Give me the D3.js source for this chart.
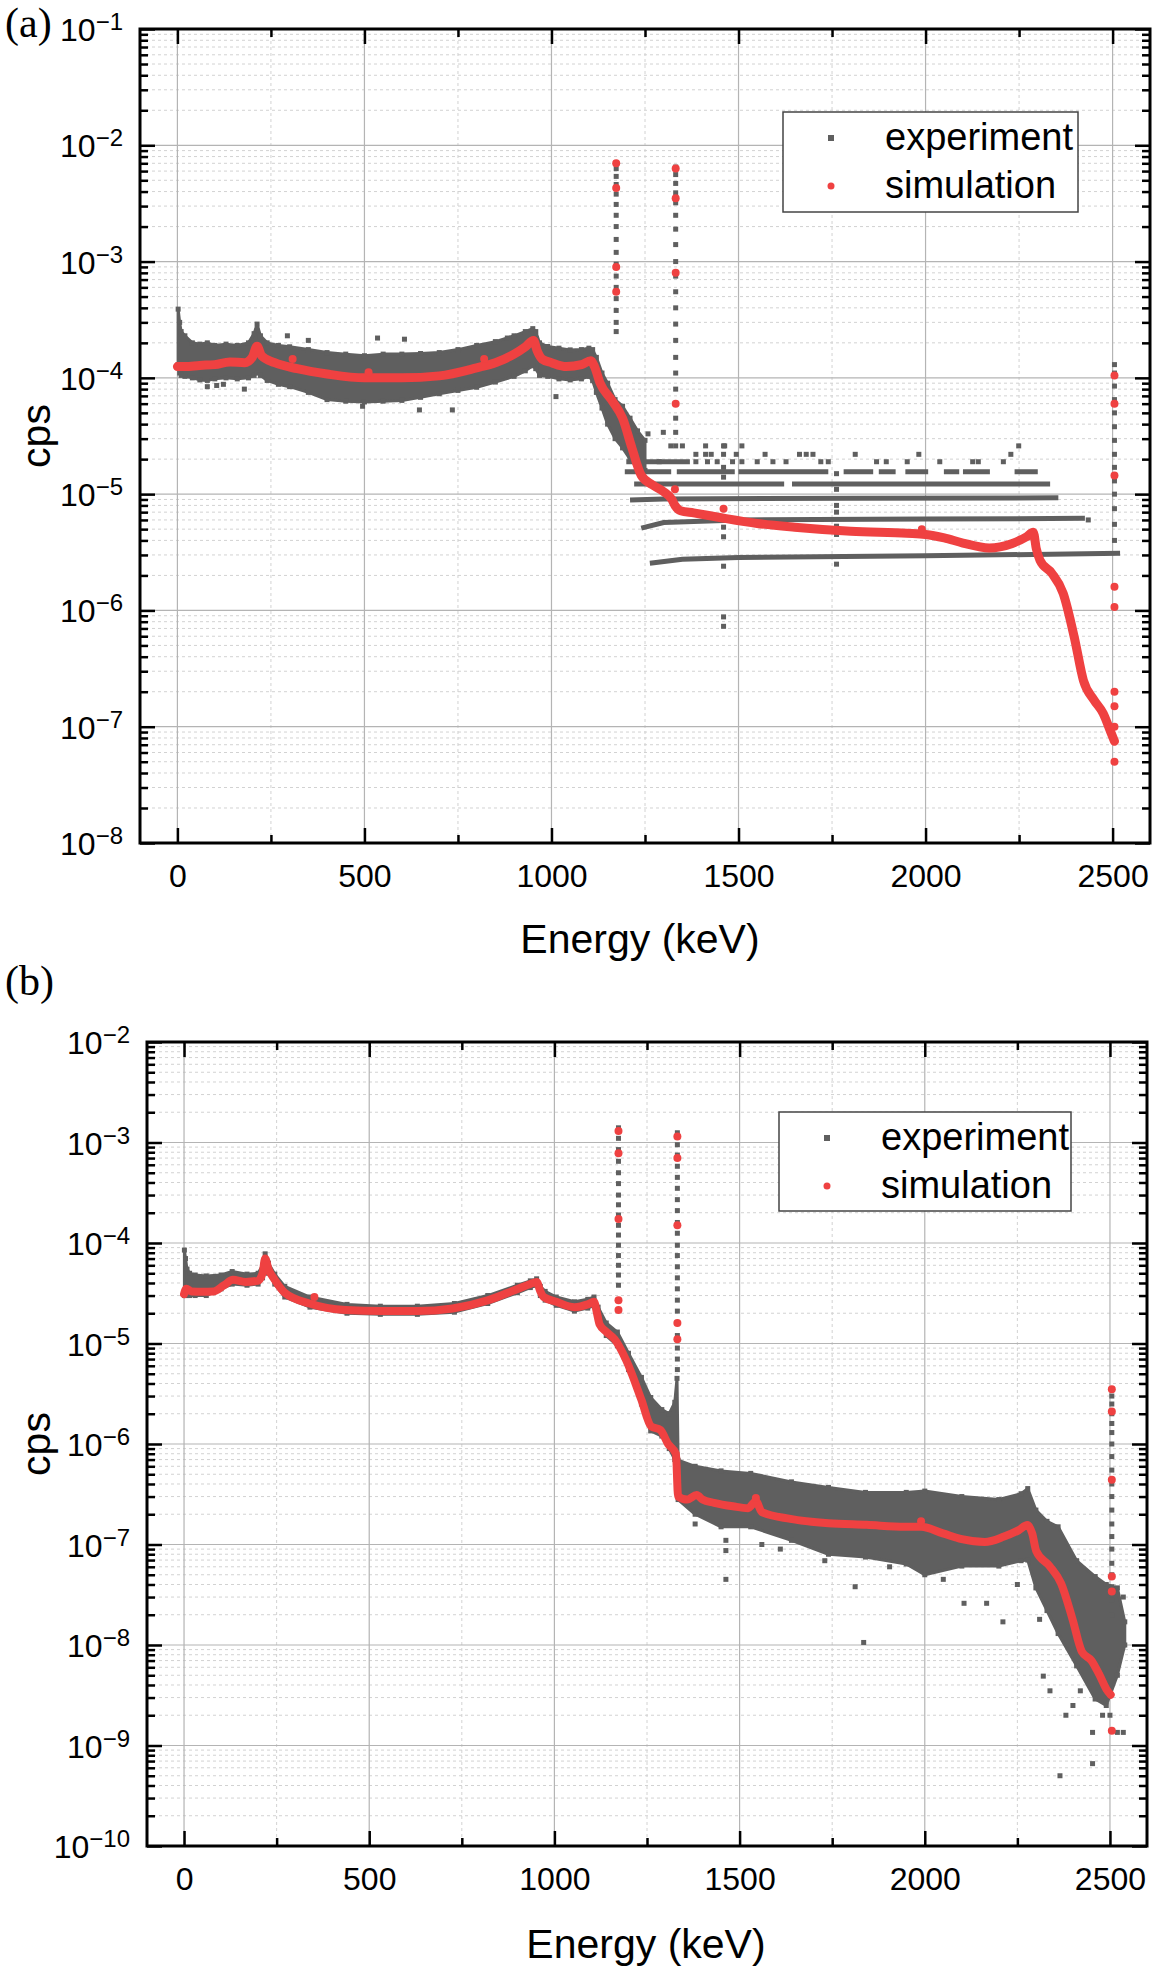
<!DOCTYPE html>
<html><head><meta charset="utf-8">
<script src="https://cdn.jsdelivr.net/npm/d3@7"></script>
<style>body{margin:0;background:#fff}</style>
</head><body>
<svg id="chart" width="1160" height="1974" xmlns="http://www.w3.org/2000/svg"></svg>
<script>
// ---------------- shared axis data ----------------
const energyTicks = [0, 500, 1000, 1500, 2000, 2500];
const energyMinor = [250, 750, 1250, 1750, 2250];
const energyDomain = [-100, 2600];
const decadeExpA = [-8, -7, -6, -5, -4, -3, -2, -1];
const decadeExpB = [-10, -9, -8, -7, -6, -5, -4, -3, -2];
const legendLabels = ["experiment", "simulation"];
const axisTitleX = "Energy (keV)";
const axisTitleY = "cps";

// ---------------- panel (a) ----------------
const simA_E = [0,20,60,100,140,180,200,213,225,260,320,400,500,600,700,800,850,900,930,952,962,975,1000,1040,1080,1105,1115,1130,1160,1190,1215,1240,1270,1300,1322,1330,1345,1380,1450,1550,1650,1800,1950,2000,2050,2100,2170,2230,2270,2288,2296,2306,2337,2368,2398,2422,2450,2475,2495,2505];
const simA_cps = [1.25e-4,1.25e-4,1.28e-4,1.3e-4,1.37e-4,1.35e-4,1.5e-4,1.87e-4,1.55e-4,1.35e-4,1.2e-4,1.08e-4,1.0e-4,1.0e-4,1.04e-4,1.22e-4,1.35e-4,1.6e-4,1.85e-4,2.1e-4,1.7e-4,1.45e-4,1.35e-4,1.25e-4,1.3e-4,1.4e-4,1.25e-4,9e-5,6.5e-5,4.5e-5,2.5e-5,1.45e-5,1.2e-5,1.05e-5,9e-6,8e-6,7.2e-6,6.9e-6,6.3e-6,5.6e-6,5.2e-6,4.8e-6,4.6e-6,4.5e-6,4.2e-6,3.8e-6,3.45e-6,3.75e-6,4.3e-6,4.7e-6,3.4e-6,2.7e-6,2.1e-6,1.4e-6,5.8e-7,2.5e-7,1.7e-7,1.3e-7,9e-8,7.5e-8];
const simA_dotE = [1173,1173,1173,1173,1332,1332,1332,1332,2505,2505,2505,2505,2505,2505,2505,2505,2505,308,511,820,1330,1460,1990];
const simA_dotCps = [7e-3,4.3e-3,9e-4,5.5e-4,6.3e-3,3.5e-3,8e-4,6e-5,1.05e-4,6e-5,1.45e-5,1.6e-6,1.07e-6,2e-7,1.5e-7,1e-7,5e-8,1.45e-4,1.12e-4,1.45e-4,1.1e-5,7.5e-6,5e-6];

const expA_E = [2,6,10,20,40,60,80,100,130,160,190,205,213,222,240,270,300,350,400,450,500,550,600,650,700,750,800,850,900,930,950,958,968,990,1020,1050,1080,1100,1110,1120,1135,1150,1170,1190,1210,1230,1250];
const expA_upper = [3.9e-4,3.0e-4,2.5e-4,2.3e-4,2.0e-4,1.95e-4,2.0e-4,1.9e-4,1.95e-4,1.9e-4,2.0e-4,2.4e-4,2.9e-4,2.3e-4,2.0e-4,1.9e-4,1.85e-4,1.75e-4,1.65e-4,1.6e-4,1.55e-4,1.6e-4,1.6e-4,1.62e-4,1.65e-4,1.75e-4,1.9e-4,2.05e-4,2.3e-4,2.5e-4,2.65e-4,2.5e-4,2.0e-4,1.86e-4,1.8e-4,1.74e-4,1.75e-4,1.8e-4,1.75e-4,1.5e-4,1.1e-4,9e-5,6.5e-5,5.7e-5,4.5e-5,3.5e-5,2.9e-5];
const expA_lower = [1.3e-4,1.1e-4,1.05e-4,1.03e-4,1.0e-4,9.6e-5,9.5e-5,9.8e-5,1.0e-4,9.8e-5,1.0e-4,1.05e-4,1.1e-4,1.05e-4,9.5e-5,8.8e-5,8.4e-5,7.5e-5,6.5e-5,6.3e-5,6.2e-5,6.3e-5,6.4e-5,6.8e-5,7.3e-5,7.8e-5,8.3e-5,9.2e-5,1.03e-4,1.15e-4,1.27e-4,1.2e-4,1.05e-4,1.03e-4,9.8e-5,9.6e-5,9.8e-5,1.03e-4,9.5e-5,7.5e-5,5.5e-5,4.0e-5,3.0e-5,2.5e-5,2.0e-5,1.7e-5,1.6e-5];
// isolated experiment squares (outliers, photopeak columns, K-40 / Bi-214 lines, sparse count levels)
const expA_ptE = [80,105,123,179,294,350,495,535,607,647,735,882,1012,
  1173,1173,1173,1173,1173,1173,1173,1173,1173,1173,1173,1173,1173,1173,1173,1173,1173,
  1332,1332,1332,1332,1332,1332,1332,1332,1332,1332,1332,1332,1332,1332,1332,1332,1332,1332,1332,1332,1332,
  2505,2505,2505,2505,2505,2505,2505,2505,2505,2505,2505,2505,2505,2505,
  1460,1460,1460,1460,1460,1460,1460,1460,1460,
  1762,1762,1762,1762,1762,1762,1762,2435,
  1258,1299,1319,1350,1412,1463,1509,2249,
  1386,1412,1427,1494,1571,1663,1681,1699,1812,1982,2228,
  1227,1288,1386,1417,1443,1484,1509,1550,1592,1627,1720,1740,1869,1895,1951,2038,2126,2141,2208];
const expA_ptCps = [8.4e-5,8.6e-5,8.8e-5,8e-5,2.3e-4,2.1e-4,5.7e-5,2.2e-4,2.15e-4,5.3e-5,5.3e-5,2.2e-4,6.9e-5,
  7.0e-3,6.3e-3,5.4e-3,4.6e-3,3.8e-3,3.1e-3,2.5e-3,2.0e-3,1.55e-3,1.2e-3,9.5e-4,7.5e-4,6e-4,4.8e-4,3.8e-4,3.0e-4,2.5e-4,
  6.5e-3,5.6e-3,4.7e-3,3.9e-3,3.2e-3,2.5e-3,1.9e-3,1.4e-3,1.0e-3,7.5e-4,5.5e-4,4e-4,2.9e-4,2.1e-4,1.5e-4,1.1e-4,8e-5,6e-5,4.5e-5,3.4e-5,2.6e-5,
  1.3e-4,1.1e-4,8.5e-5,6.5e-5,5e-5,3.8e-5,2.9e-5,2.2e-5,1.7e-5,1.3e-5,1.0e-5,7.5e-6,5.5e-6,4e-6,
  2.6e-5,2.2e-5,1.7e-5,1.4e-5,5.2e-6,4.3e-6,2.4e-6,8.8e-7,7.3e-7,
  1.5e-5,1.1e-5,8e-6,7e-6,5.3e-6,4.5e-6,2.5e-6,6e-6,
  3.3e-5,3.4e-5,2.6e-5,2.6e-5,2.6e-5,2.6e-5,2.6e-5,2.6e-5,
  2.2e-5,2.2e-5,2.2e-5,2.2e-5,2.2e-5,2.2e-5,2.2e-5,2.2e-5,2.2e-5,2.2e-5,2.2e-5,
  1.9e-5,1.9e-5,1.9e-5,1.9e-5,1.9e-5,1.9e-5,1.9e-5,1.9e-5,1.9e-5,1.9e-5,1.9e-5,1.9e-5,1.9e-5,1.9e-5,1.9e-5,1.9e-5,1.9e-5,1.9e-5,1.9e-5];
// quantised count levels above 1250 keV (null = gap)
const expA_levelE = [
  [1263,1350,1500,2000,2520],
  [1240,1300,1500,2000,2426],
  [1210,1300,1800,2355],
  [1221,1622,null,1643,2333],
  [1196,1320,null,1335,1490,null,1500,1740,null,1781,1860,null,1875,1920,null,1946,2007,null,2049,2090,null,2100,2172,null,2238,2300],
  [1200,1370]];
const expA_levelCps = [
  [2.55e-6,2.75e-6,2.85e-6,2.95e-6,3.1e-6],
  [5.1e-6,5.7e-6,6.0e-6,6.1e-6,6.2e-6],
  [8.9e-6,9.1e-6,9.2e-6,9.3e-6],
  [1.22e-5,1.22e-5,null,1.22e-5,1.22e-5],
  [1.56e-5,1.56e-5,null,1.56e-5,1.56e-5,null,1.56e-5,1.56e-5,null,1.56e-5,1.56e-5,null,1.56e-5,1.56e-5,null,1.56e-5,1.56e-5,null,1.56e-5,1.56e-5,null,1.56e-5,1.56e-5,null,1.56e-5,1.56e-5],
  [1.9e-5,1.9e-5]];

// ---------------- panel (b) ----------------
const simB_E = [0,6,20,50,80,108,132,166,199,212,219,228,245,272,339,436,532,629,725,822,899,935,952,962,971,1005,1054,1090,1107,1115,1122,1141,1163,1194,1235,1261,1286,1307,1328,1334,1359,1384,1400,1431,1482,1523,1544,1560,1637,1740,1843,1946,1990,2049,2100,2162,2214,2254,2277,2290,2301,2337,2368,2399,2424,2450,2471,2491,2502];
const simB_cps = [3.1e-5,3.5e-5,3.3e-5,3.27e-5,3.3e-5,3.8e-5,4.3e-5,4.1e-5,4.2e-5,5e-5,7e-5,5.5e-5,4.3e-5,3.2e-5,2.5e-5,2.15e-5,2.1e-5,2.1e-5,2.23e-5,2.7e-5,3.47e-5,3.9e-5,4.1e-5,3.3e-5,2.9e-5,2.6e-5,2.3e-5,2.45e-5,2.6e-5,2.0e-5,1.55e-5,1.3e-5,1.1e-5,6.8e-6,2.75e-6,1.5e-6,1.38e-6,1e-6,8e-7,3e-7,2.8e-7,3.1e-7,2.8e-7,2.6e-7,2.4e-7,2.3e-7,2.7e-7,2.1e-7,1.8e-7,1.63e-7,1.57e-7,1.5e-7,1.5e-7,1.29e-7,1.13e-7,1.06e-7,1.2e-7,1.39e-7,1.56e-7,1.29e-7,8.6e-8,6.1e-8,4.1e-8,1.8e-8,8.6e-9,7e-9,5.1e-9,3.6e-9,3.2e-9];
const simB_dotE = [1173,1173,1173,1173,1173,1332,1332,1332,1332,1332,2505,2505,2505,2505,2505,2505,352,1544,1990];
const simB_dotCps = [1.3e-3,7.8e-4,1.73e-4,2.7e-5,2.15e-5,1.15e-3,7e-4,1.5e-4,1.6e-5,1.1e-5,3.5e-6,2.1e-6,4.4e-7,4.8e-8,3.4e-8,1.4e-9,2.9e-5,2.9e-7,1.7e-7];

const expB_E = [1,4,8,15,30,60,100,130,170,200,212,219,228,245,272,340,440,530,630,730,820,900,935,952,962,975,1005,1054,1090,1107,1118,1140,1170,1200,1235,1260,1290,1310,1325,1331,1334,1380,1450,1530,1640,1740,1840,1950,2000,2100,2200,2260,2278,2300,2330,2360,2410,2460,2490,2520,2540];
const expB_upper = [8.5e-5,7e-5,5.5e-5,5e-5,4.8e-5,4.7e-5,4.8e-5,5.2e-5,4.9e-5,5e-5,6e-5,7.8e-5,6.3e-5,4.9e-5,3.7e-5,2.9e-5,2.45e-5,2.35e-5,2.35e-5,2.5e-5,3.0e-5,3.8e-5,4.2e-5,4.4e-5,3.7e-5,3.3e-5,2.9e-5,2.6e-5,2.75e-5,2.9e-5,2.3e-5,1.6e-5,1.3e-5,8e-6,4.6e-6,2.9e-6,2.2e-6,2.0e-6,2.6e-6,4.5e-6,6.9e-7,6e-7,5.4e-7,5.1e-7,4.2e-7,3.7e-7,3.3e-7,3.3e-7,3.4e-7,3e-7,2.8e-7,3.2e-7,3.6e-7,2.2e-7,1.7e-7,1.5e-7,6.9e-8,4.8e-8,4e-8,3.7e-8,1.7e-8];
const expB_lower = [3e-5,3.1e-5,3.0e-5,3.0e-5,3.0e-5,3.0e-5,3.5e-5,3.9e-5,3.8e-5,3.9e-5,4.5e-5,6e-5,5e-5,3.9e-5,2.9e-5,2.3e-5,2.0e-5,1.95e-5,1.95e-5,2.05e-5,2.5e-5,3.2e-5,3.6e-5,3.8e-5,3.0e-5,2.7e-5,2.4e-5,2.1e-5,2.25e-5,2.4e-5,1.85e-5,1.2e-5,9.5e-6,5.5e-6,2.5e-6,1.35e-6,1.2e-6,9e-7,7e-7,6.5e-7,2.8e-7,2e-7,1.5e-7,1.5e-7,1.1e-7,8e-8,7.5e-8,6.4e-8,5e-8,6.1e-8,6.1e-8,6.9e-8,7e-8,3.7e-8,2.2e-8,1.3e-8,6.2e-9,2.9e-9,2.5e-9,5e-9,1e-8];
const expB_ptE = [1380,1463,1463,1463,1560,1610,1730,1812,1835,1905,2050,2106,2167,2211,2250,2310,2320,2338,2365,2381,2400,2420,2453,2453,2480,2500,2520,2536,2536,
  1173,1173,1173,1173,1173,1173,1173,1173,1173,1173,1173,1173,1173,1173,1173,1173,
  1332,1332,1332,1332,1332,1332,1332,1332,1332,1332,1332,1332,1332,1332,1332,1332,1332,1332,1332,1332,1332,1332,
  2505,2505,2505,2505,2505,2505,2505,2505,2505,2505,2505,2505,2505,2505,2505,2505,2505,2505,2505,2505];
const expB_ptCps = [1.6e-7,1.1e-7,8.7e-8,4.5e-8,1.0e-7,9e-8,6.9e-8,3.8e-8,1.06e-8,6e-8,4.5e-8,2.6e-8,2.6e-8,1.7e-8,4e-8,1.8e-8,4.9e-9,3.5e-9,5e-10,2e-9,2.5e-9,3.5e-9,1.35e-9,6.6e-10,2e-9,2e-9,1.35e-9,1.35e-9,3e-8,
  1.4e-3,1.1e-3,8.5e-4,6.5e-4,5e-4,3.9e-4,3e-4,2.4e-4,1.9e-4,1.5e-4,1.2e-4,9.5e-5,7.5e-5,6e-5,4.8e-5,3.8e-5,
  1.25e-3,9.5e-4,7.5e-4,5.8e-4,4.5e-4,3.5e-4,2.7e-4,2.1e-4,1.6e-4,1.25e-4,9.5e-5,7.5e-5,5.8e-5,4.5e-5,3.5e-5,2.7e-5,2.1e-5,1.6e-5,1.2e-5,9e-6,7e-6,5.5e-6,
  3.5e-6,3e-6,2.5e-6,2e-6,1.6e-6,1.3e-6,1e-6,7.5e-7,5.5e-7,4e-7,3e-7,2.2e-7,1.6e-7,1.2e-7,9e-8,6.5e-8,5e-8,3.8e-8,2.8e-8,2e-8];

// ---------------- styling / layout ----------------
const GRAY = "#5f5f5f", RED = "#ef4141";
const FONT = "'Liberation Sans', Arial, Helvetica, sans-serif";
const svg = d3.select("#chart");

const panels = [
  {id:"a", x0:140, x1:1150, y0:29, y1:843, exps:decadeExpA, tag:"(a)", tagY:37, titleX:640, titleY:953,
   legX:783, legY:112, legW:295, legH:100, lineW:9,
   sim:[simA_E, simA_cps], simDot:[simA_dotE, simA_dotCps], band:[expA_E, expA_upper, expA_lower],
   pts:[expA_ptE, expA_ptCps], levels:[expA_levelE, expA_levelCps]},
  {id:"b", x0:147, x1:1147, y0:1042, y1:1846, exps:decadeExpB, tag:"(b)", tagY:995, titleX:646, titleY:1958,
   legX:779, legY:1112, legW:292, legH:99, lineW:8,
   sim:[simB_E, simB_cps], simDot:[simB_dotE, simB_dotCps], band:[expB_E, expB_upper, expB_lower],
   pts:[expB_ptE, expB_ptCps], levels:null}
];

panels.forEach(p => {
  const x = d3.scaleLinear().domain(energyDomain).range([p.x0, p.x1]);
  const decades = p.exps.map(e => Math.pow(10, e));
  const y = d3.scaleLog().domain([decades[0], decades[decades.length-1]]).range([p.y1, p.y0]);
  const minorY = [];
  for (let i = 0; i < decades.length - 1; i++) for (let k = 2; k <= 9; k++) minorY.push(k * decades[i]);
  const g = svg.append("g");

  // grid
  const grid = g.append("g");
  grid.selectAll(".vmin").data(energyMinor).join("line")
    .attr("x1", d => x(d)).attr("x2", d => x(d)).attr("y1", p.y0).attr("y2", p.y1)
    .attr("stroke", "#d2d2d2").attr("stroke-width", 1).attr("stroke-dasharray", "3,3");
  grid.selectAll(".hmin").data(minorY).join("line")
    .attr("x1", p.x0).attr("x2", p.x1).attr("y1", d => y(d)).attr("y2", d => y(d))
    .attr("stroke", "#d2d2d2").attr("stroke-width", 1).attr("stroke-dasharray", "3,3");
  grid.selectAll(".vmaj").data(energyTicks).join("line")
    .attr("x1", d => x(d)).attr("x2", d => x(d)).attr("y1", p.y0).attr("y2", p.y1)
    .attr("stroke", "#b4b4b4").attr("stroke-width", 1.2);
  grid.selectAll(".hmaj").data(decades).join("line")
    .attr("x1", p.x0).attr("x2", p.x1).attr("y1", d => y(d)).attr("y2", d => y(d))
    .attr("stroke", "#b4b4b4").attr("stroke-width", 1.2);

  // clip
  svg.append("clipPath").attr("id", "clip" + p.id).append("rect")
    .attr("x", p.x0).attr("y", p.y0).attr("width", p.x1 - p.x0).attr("height", p.y1 - p.y0);
  const dg = g.append("g").attr("clip-path", `url(#clip${p.id})`);

  // experiment band
  const bandData = d3.zip(p.band[0], p.band[1], p.band[2]);
  dg.append("path").datum(bandData)
    .attr("d", d3.area().x(d => x(d[0])).y0(d => y(d[2])).y1(d => y(d[1])))
    .attr("fill", GRAY).attr("stroke", GRAY).attr("stroke-width", 3).attr("stroke-linejoin", "round");
  const edgePts = bandData.flatMap(d => [[d[0], d[1]], [d[0], d[2]]]);
  dg.selectAll(".edge").data(edgePts).join("rect")
    .attr("x", d => x(d[0]) - 2.5).attr("y", d => y(d[1]) - 2.5).attr("width", 5).attr("height", 5).attr("fill", GRAY);

  // quantised levels
  if (p.levels) {
    p.levels[0].forEach((Es, i) => {
      const pts = d3.zip(Es, p.levels[1][i]);
      dg.append("path").datum(pts)
        .attr("d", d3.line().defined(d => d[0] !== null && d[1] !== null).x(d => x(d[0])).y(d => y(d[1])))
        .attr("fill", "none").attr("stroke", GRAY).attr("stroke-width", 5);
    });
  }
  // isolated experiment squares
  dg.selectAll(".pt").data(d3.zip(p.pts[0], p.pts[1])).join("rect")
    .attr("x", d => x(d[0]) - 2.5).attr("y", d => y(d[1]) - 2.5).attr("width", 5).attr("height", 5).attr("fill", GRAY);

  // simulation
  dg.append("path").datum(d3.zip(p.sim[0], p.sim[1]))
    .attr("d", d3.line().x(d => x(d[0])).y(d => y(d[1])).curve(d3.curveMonotoneX))
    .attr("fill", "none").attr("stroke", RED).attr("stroke-width", p.lineW)
    .attr("stroke-linecap", "round").attr("stroke-linejoin", "round");
  dg.selectAll(".sd").data(d3.zip(p.simDot[0], p.simDot[1])).join("circle")
    .attr("cx", d => x(d[0])).attr("cy", d => y(d[1])).attr("r", 4).attr("fill", RED);

  // axes
  const tickStyle = sel => {
    sel.select(".domain").remove();
    sel.selectAll(".tick line").attr("stroke", "#000").attr("stroke-width", 2.5);
  };
  const ax = g.append("g");
  ax.append("g").attr("transform", `translate(0,${p.y1})`)
    .call(d3.axisBottom(x).tickValues(energyTicks).tickSize(-15).tickFormat(d3.format("d")))
    .call(tickStyle)
    .call(s => s.selectAll("text").attr("y", 44).attr("dy", null).attr("fill", "#000")
      .attr("font-size", 32).attr("font-family", FONT));
  ax.append("g").attr("transform", `translate(0,${p.y1})`)
    .call(d3.axisBottom(x).tickValues(energyMinor).tickSize(-8).tickFormat("")).call(tickStyle);
  ax.append("g").attr("transform", `translate(0,${p.y0})`)
    .call(d3.axisTop(x).tickValues(energyTicks).tickSize(-15).tickFormat("")).call(tickStyle);
  ax.append("g").attr("transform", `translate(0,${p.y0})`)
    .call(d3.axisTop(x).tickValues(energyMinor).tickSize(-8).tickFormat("")).call(tickStyle);
  ax.append("g").attr("transform", `translate(${p.x0},0)`)
    .call(d3.axisLeft(y).tickValues(decades).tickSize(-15).tickFormat(() => "10"))
    .call(tickStyle)
    .call(s => s.selectAll("text").attr("x", -17).attr("y", 11.5).attr("dy", null).attr("fill", "#000")
      .attr("font-size", 32).attr("font-family", FONT)
      .each(function(d, i) {
        d3.select(this).append("tspan").attr("dy", -11).attr("font-size", 24).text("\u2212" + Math.abs(p.exps[i]));
      }));
  ax.append("g").attr("transform", `translate(${p.x0},0)`)
    .call(d3.axisLeft(y).tickValues(minorY).tickSize(-8).tickFormat("")).call(tickStyle);
  ax.append("g").attr("transform", `translate(${p.x1},0)`)
    .call(d3.axisRight(y).tickValues(decades).tickSize(-15).tickFormat("")).call(tickStyle);
  ax.append("g").attr("transform", `translate(${p.x1},0)`)
    .call(d3.axisRight(y).tickValues(minorY).tickSize(-8).tickFormat("")).call(tickStyle);

  // frame
  g.append("rect").attr("x", p.x0).attr("y", p.y0).attr("width", p.x1 - p.x0).attr("height", p.y1 - p.y0)
    .attr("fill", "none").attr("stroke", "#000").attr("stroke-width", 3);

  // titles
  g.append("text").attr("x", p.titleX).attr("y", p.titleY).attr("text-anchor", "middle")
    .attr("font-family", FONT).attr("font-size", 41).text(axisTitleX);
  g.append("text").attr("transform", `translate(50,${(p.y0 + p.y1) / 2}) rotate(-90)`).attr("text-anchor", "middle")
    .attr("font-family", FONT).attr("font-size", 41).text(axisTitleY);
  g.append("text").attr("x", 5).attr("y", p.tagY)
    .attr("font-family", "'Liberation Serif', 'Times New Roman', serif").attr("font-size", 42).text(p.tag);

  // legend
  const lg = g.append("g");
  lg.append("rect").attr("x", p.legX).attr("y", p.legY).attr("width", p.legW).attr("height", p.legH)
    .attr("fill", "#fff").attr("stroke", "#444").attr("stroke-width", 1.5);
  lg.append("rect").attr("x", p.legX + 45).attr("y", p.legY + 23).attr("width", 6).attr("height", 6).attr("fill", GRAY);
  lg.append("circle").attr("cx", p.legX + 48).attr("cy", p.legY + 74).attr("r", 3.5).attr("fill", RED);
  lg.selectAll("text").data(legendLabels).join("text")
    .attr("x", p.legX + 102).attr("y", (d, i) => p.legY + 38 + i * 48)
    .attr("font-family", FONT).attr("font-size", 38).text(d => d);
});
</script>
</body></html>
